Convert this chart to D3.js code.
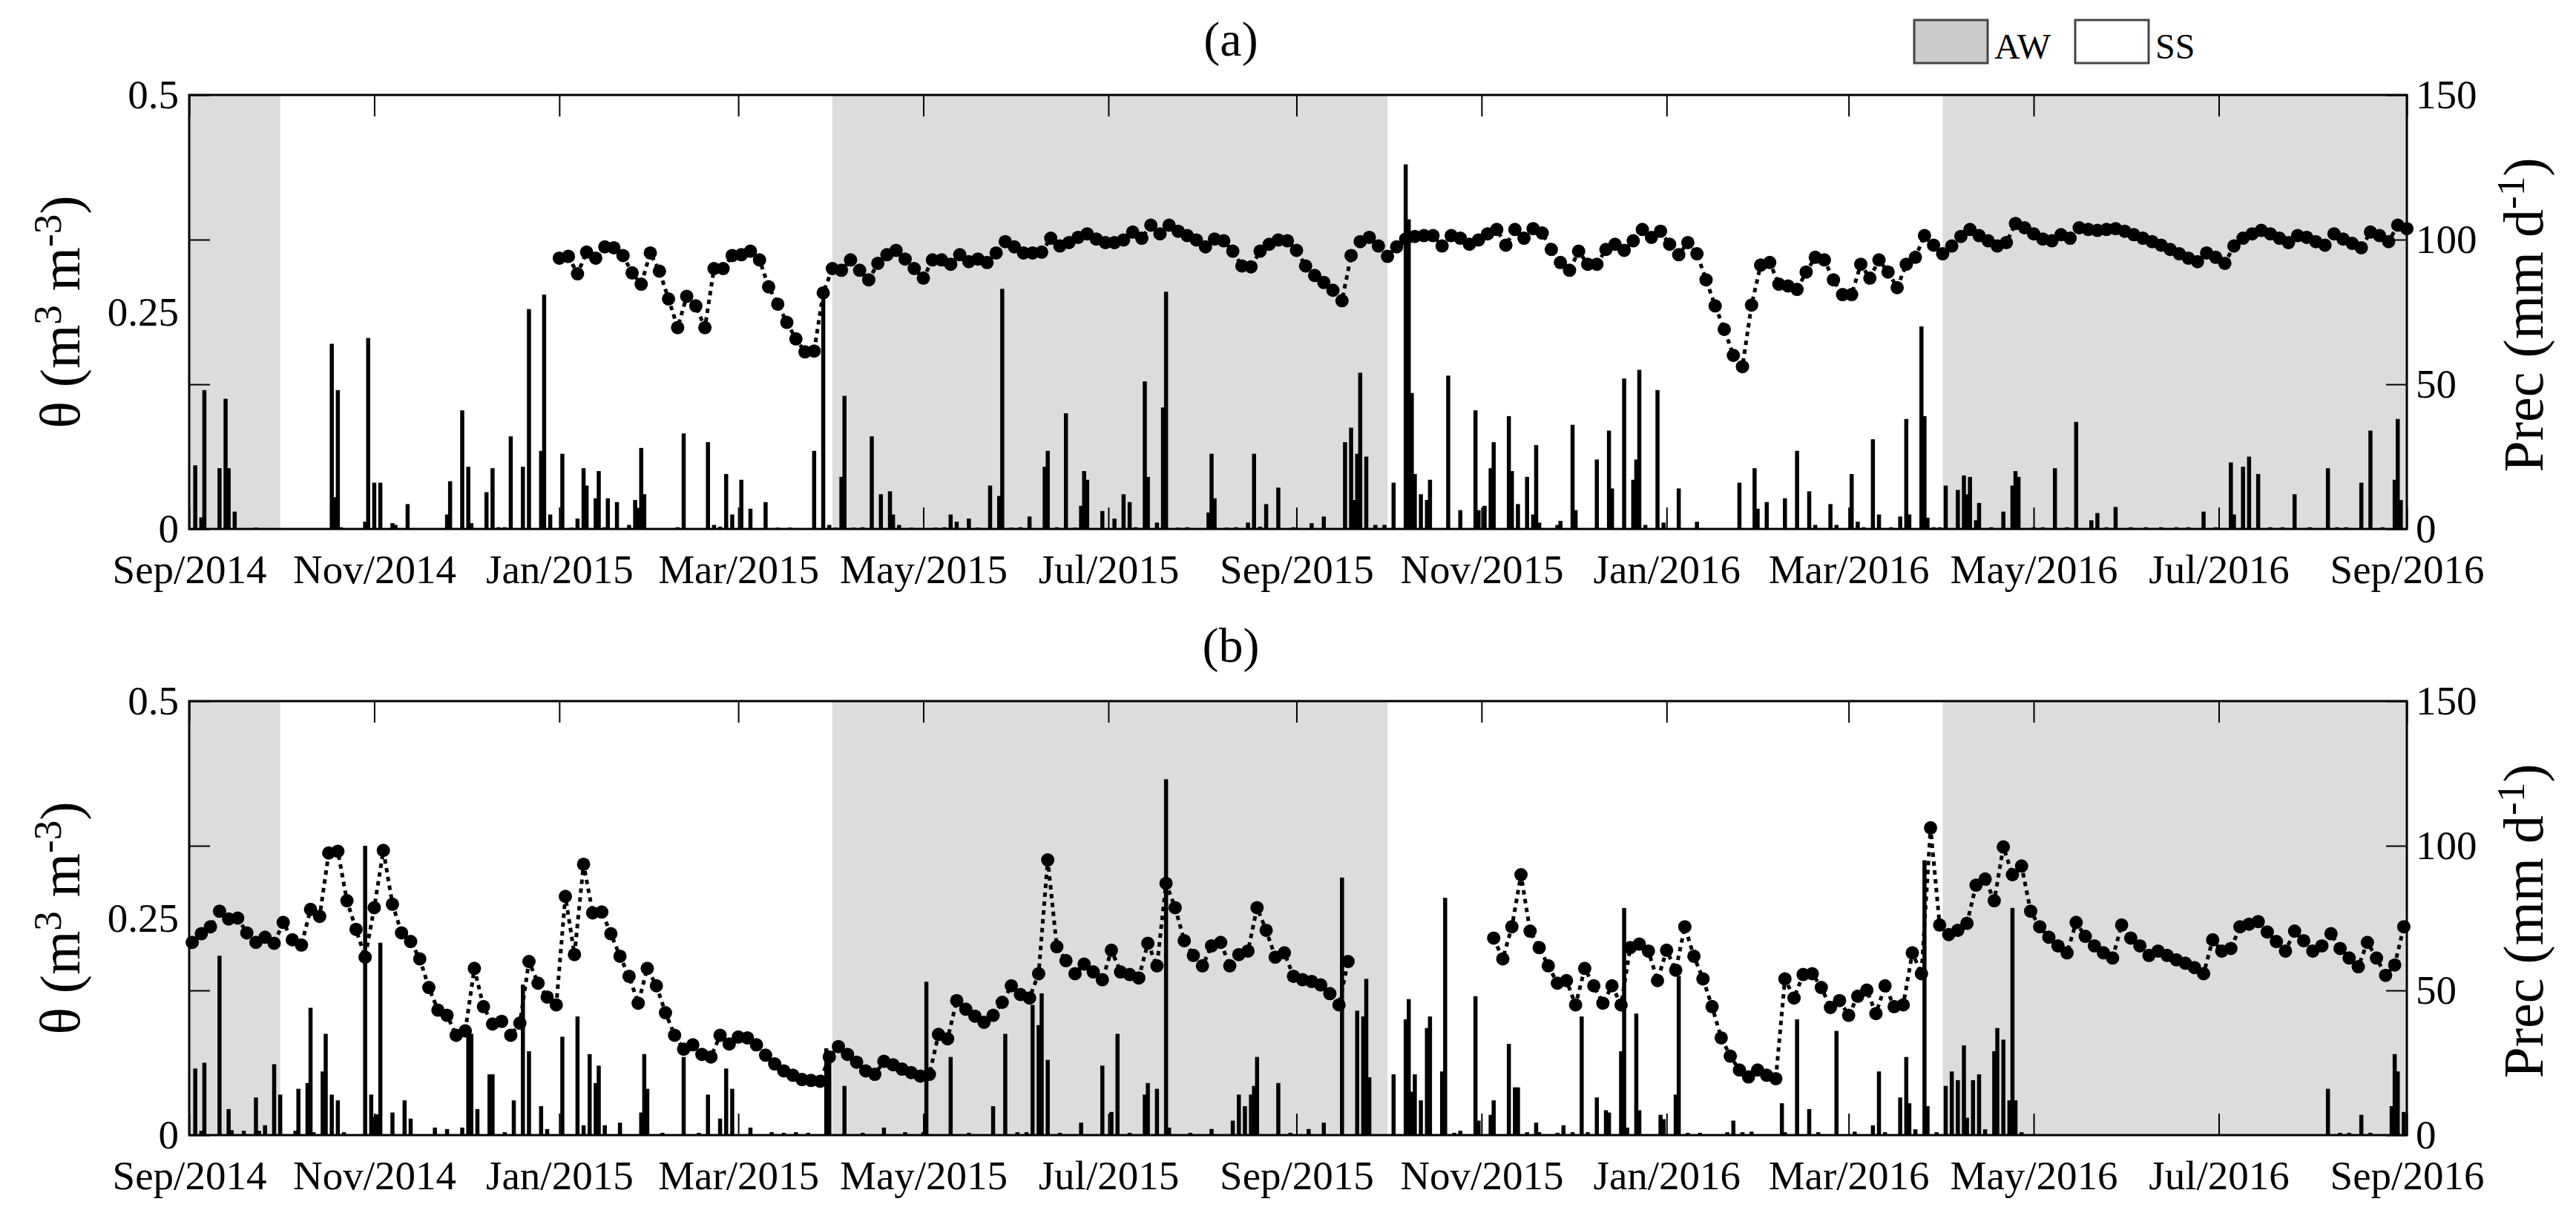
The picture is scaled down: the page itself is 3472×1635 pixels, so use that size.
<!DOCTYPE html>
<html>
<head>
<meta charset="utf-8">
<script src="https://cdn.jsdelivr.net/npm/d3@7"></script>
<style>
  body { margin: 0; background: #fff; }
  svg text { font-family: "Liberation Serif", "Times New Roman", "DejaVu Serif", serif; fill: #000; }
</style>
</head>
<body>
<div id="chart"></div>
<script>
////////////////////////////////////////////////////////////////////
//////////////////////////////  Data  //////////////////////////////
// all day numbers count from 1 Sep 2014 (day 0)
const originDate = "2014-09-01";
const endDate = "2016-09-01";
const xTickDates = ["2014-09-01", "2014-11-01", "2015-01-01", "2015-03-01", "2015-05-01", "2015-07-01",
    "2015-09-01", "2015-11-01", "2016-01-01", "2016-03-01", "2016-05-01", "2016-07-01", "2016-09-01"];
const awPeriods = [["2014-09-01", "2014-10-01"], ["2015-04-01", "2015-10-01"], ["2016-04-01", "2016-09-01"]];
const legendItems = ["AW", "SS"];
const thetaTicks = [0, 0.25, 0.5];
const precTicks = [0, 50, 100, 150];
const thetaStep = 3; // days between soil moisture readings below

// (a) soil moisture, from day 122
const thetaAStart = 122;
const thetaA = [
    .312, .314, .294, .319, .312, .325, .324, .315, .295, .282,
    .318, .297, .265, .232, .268, .257, .232, .300, .300, .315,
    .316, .320, .310, .279, .259, .238, .219, .204, .205, .272,
    .300, .298, .310, .298, .287, .306, .316, .321, .311, .300,
    .289, .310, .310, .305, .316, .308, .311, .307, .318, .331,
    .325, .318, .318, .319, .335, .326, .330, .336, .340, .334,
    .330, .330, .333, .342, .335, .350, .340, .350, .343, .338,
    .333, .325, .334, .332, .320, .303, .302, .320, .328, .333,
    .332, .321, .303, .292, .284, .275, .263, .315, .331, .336,
    .326, .314, .325, .334, .337, .338, .338, .326, .338, .335,
    .328, .333, .340, .345, .327, .345, .335, .346, .341, .322,
    .307, .298, .320, .305, .305, .322, .328, .321, .332, .345,
    .336, .343, .328, .316, .330, .317, .287, .257, .230, .200,
    .187, .258, .304, .307, .282, .280, .276, .296, .313, .310,
    .287, .270, .270, .305, .289, .310, .296, .278, .305, .313,
    .338, .327, .317, .326, .337, .345, .338, .332, .326, .330,
    .352, .347, .340, .334, .332, .339, .335, .347, .345, .344,
    .345, .346, .343, .339, .335, .331, .327, .322, .317, .312,
    .308, .318, .313, .306, .326, .335, .340, .344, .340, .335,
    .330, .338, .336, .331, .327, .340, .334, .329, .324, .342,
    .338, .331, .350, .346
];

// (b) soil moisture, two records with a gap in Oct-Nov 2015
const thetaB1Start = 1;
const thetaB1 = [
    .222, .232, .240, .258, .249, .250, .233, .222, .228, .221,
    .245, .225, .219, .260, .252, .325, .327, .270, .237, .205,
    .262, .328, .266, .233, .223, .203, .170, .144, .138, .115,
    .120, .192, .148, .128, .131, .115, .129, .200, .175, .159,
    .150, .275, .208, .312, .256, .257, .232, .206, .183, .152,
    .192, .172, .141, .115, .099, .104, .093, .090, .115, .105,
    .113, .112, .104, .092, .082, .074, .069, .064, .063, .062,
    .090, .102, .093, .084, .074, .070, .085, .081, .076, .072,
    .068, .070, .116, .111, .155, .145, .137, .130, .138, .153,
    .172, .162, .158, .186, .317, .217, .201, .186, .197, .188,
    .179, .213, .188, .185, .181, .221, .195, .290, .262, .224,
    .207, .195, .218, .222, .195, .208, .212, .262, .236, .205,
    .210, .183, .179, .177, .173, .163, .150, .200
];
const thetaB2Start = 430;
const thetaB2 = [
    .227, .203, .240, .300, .235, .216, .195, .175, .178, .150,
    .192, .172, .152, .172, .150, .216, .220, .212, .178, .213,
    .190, .240, .206, .180, .148, .112, .091, .075, .067, .075,
    .069, .065, .180, .158, .185, .186, .170, .147, .155, .138,
    .160, .167, .140, .172, .148, .150, .210, .186, .354, .242,
    .231, .236, .244, .288, .295, .270, .332, .300, .310, .258,
    .240, .228, .218, .210, .245, .229, .218, .210, .204, .242,
    .227, .218, .207, .212, .207, .202, .198, .193, .186, .225,
    .212, .215, .240, .243, .246, .234, .223, .212, .235, .224,
    .212, .218, .232, .215, .204, .194, .222, .204, .184, .196,
    .240
];

// daily precipitation [day, mm d-1]
const precA = [
    [2, 22], [4, 4], [5, 48], [10, 21], [12, 45], [13, 21], [15, 6], [22, 0.5],
    [47, 64], [48, 11], [49, 48], [50, 0.6], [58, 2.5], [59, 66], [61, 16], [63, 16], [67, 2], [68, 1.4], [72, 8.6],
    [85, 5], [86, 16.5], [90, 41], [92, 21.5], [93, 2], [98, 12.7], [100, 21], [102, 0.6], [104, 0.6], [106, 32],
    [110, 21.5], [112, 76], [116, 27], [117, 81], [119, 5], [123, 26], [126, 0.5], [128, 3.6], [130, 21], [131, 15],
    [134, 10.6], [135, 20], [137, 0.6], [138, 10.6], [141, 9.3], [145, 1.4], [147, 10], [148, 7.3], [149, 28], [150, 12],
    [161, 0.6], [163, 33], [171, 30], [173, 1.4], [175, 0.8], [177, 19], [179, 5], [182, 17], [185, 7],
    [190, 9.3], [194, 0.5], [198, 0.5], [206, 27], [209, 82], [211, 1.4], [213, 0.5], [215, 18], [216, 46], [219, 0.5],
    [222, 0.6], [225, 32], [228, 12], [231, 13], [232, 5], [234, 1.4], [238, 0.5], [246, 0.5], [249, 0.6],
    [251, 5], [253, 2.5], [257, 3.6], [260, 0.5], [264, 15], [267, 11.4], [268, 83], [271, 0.5], [274, 0.6], [277, 4.3],
    [282, 21.5], [283, 27], [286, 0.6], [289, 40], [292, 0.5], [294, 8], [295, 20], [296, 17], [301, 6.2], [305, 3.6],
    [308, 12], [310, 9.3], [312, 0.6], [315, 51], [316, 18], [319, 2.2], [321, 42], [322, 82], [326, 0.5], [329, 0.6],
    [336, 5.7], [337, 26], [338, 10.6], [342, 0.5], [345, 0.6], [349, 2.2], [351, 26], [353, 0.8], [355, 8.6],
    [359, 14.3], [364, 0.6], [370, 2], [374, 4.3],
    [381, 30], [383, 35], [384, 10], [385, 26], [386, 54], [388, 25], [391, 1.4], [394, 1.4], [397, 16],
    [401, 126], [402, 107], [403, 47], [404, 19], [406, 12], [408, 10], [409, 17], [415, 53], [419, 6.5],
    [424, 41], [425, 6.5], [427, 8], [429, 21], [430, 30], [435, 39], [436, 20], [438, 8.6], [441, 18], [443, 5],
    [444, 29], [445, 2.2], [451, 1.4], [452, 2.8], [456, 36], [457, 6.5], [464, 24], [468, 34], [469, 14],
    [473, 52], [476, 17], [477, 24], [478, 55], [480, 1.4], [484, 48], [486, 2.2], [491, 14], [497, 2.5],
    [511, 16], [516, 21], [517, 7], [520, 9.3], [526, 10.6], [530, 27], [534, 13], [536, 1.4], [541, 8.6], [543, 1.4],
    [548, 19], [550, 2.5], [552, 0.6], [555, 31], [557, 5], [561, 0.6], [564, 4.3], [566, 38], [567, 5],
    [571, 70], [572, 39], [573, 3.9], [575, 0.6], [577, 0.6], [579, 15], [583, 13.5], [585, 18.5], [586, 12],
    [587, 18], [589, 3], [590, 9], [594, 0.6], [598, 6], [601, 15], [602, 20], [603, 18], [608, 0.6], [611, 0.6],
    [615, 21], [619, 0.6], [622, 37], [627, 3], [629, 5.5], [632, 0.6], [635, 7.6], [640, 0.6], [645, 0.6],
    [650, 0.6], [655, 0.6], [659, 0.6], [664, 6], [668, 0.6], [673, 23], [674, 5], [677, 21.5], [679, 25], [682, 19],
    [686, 0.6], [690, 0.6], [694, 12], [699, 0.6], [705, 21], [708, 0.6], [711, 0.6], [716, 16], [719, 34],
    [723, 0.6], [727, 17], [728, 38], [729, 10]
];
const precB = [
    [2, 23], [4, 1.5], [5, 25], [10, 62], [13, 9], [14, 1.7], [18, 1.5], [22, 13], [23, 1.5], [25, 3.4],
    [28, 24.5], [30, 14], [35, 1.5], [36, 16], [39, 18], [40, 44], [41, 1], [44, 22], [45, 35], [47, 14], [49, 12], [51, 1],
    [58, 100], [60, 14], [61, 6.3], [62, 7.2], [63, 66.5], [67, 7.8], [71, 12], [73, 5.7], [81, 2.6], [85, 2.1],
    [90, 2.6], [92, 35], [93, 35], [95, 9], [99, 21], [100, 21], [104, 1], [107, 12], [110, 52], [112, 29], [116, 10], [118, 2.1],
    [123, 34], [128, 41], [130, 3.4], [132, 28], [134, 18], [135, 24], [137, 3.4], [142, 4.3], [149, 7.8], [150, 28],
    [151, 16], [156, 0.8], [163, 27], [168, 0.8], [171, 14], [175, 5.7], [177, 23], [179, 16], [185, 2.6],
    [192, 1], [196, 0.8], [200, 1], [204, 0.8], [210, 30], [211, 27], [216, 17], [222, 0.8], [229, 2.6], [236, 1], [242, 1],
    [243, 53], [251, 27], [257, 0.8], [265, 10], [269, 35], [273, 1], [276, 1], [278, 45], [280, 38], [281, 49], [283, 26],
    [287, 0.8], [294, 4.3], [301, 24], [304, 8], [306, 35], [310, 0.8], [315, 14], [316, 18], [319, 16], [322, 123],
    [323, 2.6], [330, 0.8], [337, 2.1], [344, 5], [346, 14], [348, 10], [350, 14], [351, 17], [352, 27], [359, 18],
    [363, 0.8], [369, 2.1], [374, 4.3],
    [380, 89], [385, 43], [387, 41], [388, 54], [389, 20], [397, 21], [401, 40], [402, 47], [403, 15], [404, 21],
    [406, 12], [408, 37], [409, 41], [413, 22], [414, 82], [417, 0.8], [419, 1.5], [424, 48], [425, 5], [429, 7],
    [430, 12], [435, 31.5], [437, 16.5], [438, 16.5], [441, 1], [444, 4.3], [445, 1], [451, 0.8], [453, 3.4], [456, 1],
    [459, 41], [461, 1], [464, 13], [467, 8.6], [468, 7.8], [472, 29], [473, 78.5], [474, 2.6], [477, 42], [478, 8.6],
    [485, 7], [486, 5.5], [490, 14], [491, 55], [494, 0.8], [498, 0.8], [507, 1], [509, 5], [512, 1], [515, 1.2],
    [525, 11], [526, 1], [530, 40], [534, 9], [537, 1], [543, 36], [549, 1.2], [555, 3.4], [557, 22], [559, 1],
    [564, 13], [566, 27], [567, 11], [569, 2], [572, 95], [573, 10], [576, 1], [579, 17], [581, 22], [583, 19],
    [585, 31], [586, 6], [588, 19], [590, 21], [592, 2], [595, 29], [596, 37], [598, 33], [600, 12], [601, 78.5],
    [602, 12], [604, 1], [705, 16], [709, 0.8], [712, 0.8], [716, 7], [719, 0.8], [726, 10], [727, 28], [728, 22], [730, 8]
];

////////////////////////////////////////////////////////////////////
//////////////////////////////  Init  //////////////////////////////
const width = 3472, height = 1635;
const plotLeft = 255, plotRight = 3244;
const panelBoxes = [{ label: "(a)", top: 128, bottom: 713 }, { label: "(b)", top: 945, bottom: 1530 }];
const serif = "Liberation Serif, Times New Roman, DejaVu Serif, serif";

const svg = d3.select("#chart").append("svg")
    .attr("width", width)
    .attr("height", height)
    .attr("font-family", serif);

const parseDate = d3.timeParse("%Y-%m-%d");
const formatTick = d3.timeFormat("%b/%Y");
const day0 = parseDate(originDate);
const dayToDate = (d) => d3.timeDay.offset(day0, d);

const xScale = d3.scaleTime()
    .domain([day0, parseDate(endDate)])
    .range([plotLeft, plotRight]);

const toSeries = (start, values) => values.map((v, i) => ({ date: dayToDate(start + i * thetaStep), value: v }));

const panels = [
    { box: panelBoxes[0], theta: [toSeries(thetaAStart, thetaA)], prec: precA },
    { box: panelBoxes[1], theta: [toSeries(thetaB1Start, thetaB1), toSeries(thetaB2Start, thetaB2)], prec: precB }
];

////////////////////////////////////////////////////////////////////
//////////////////////////////  Draw  //////////////////////////////
panels.forEach((p) => {
    const { top, bottom, label } = p.box;
    const yTheta = d3.scaleLinear().domain([0, 0.5]).range([bottom, top]);
    const yPrec = d3.scaleLinear().domain([0, 150]).range([bottom, top]);
    const g = svg.append("g");

    // AW shading
    g.selectAll("rect.aw")
        .data(awPeriods)
        .enter().append("rect")
        .attr("x", (d) => xScale(parseDate(d[0])))
        .attr("y", top)
        .attr("width", (d) => xScale(parseDate(d[1])) - xScale(parseDate(d[0])))
        .attr("height", bottom - top)
        .attr("fill", "#dcdcdc");

    // precipitation bars
    const barW = 5.5;
    g.selectAll("rect.prec")
        .data(p.prec)
        .enter().append("rect")
        .attr("x", (d) => xScale(dayToDate(d[0])) - barW / 2)
        .attr("y", (d) => yPrec(d[1]))
        .attr("width", barW)
        .attr("height", (d) => yPrec(0) - yPrec(d[1]))
        .attr("fill", "#000");

    // baseline
    g.append("line")
        .attr("x1", plotLeft).attr("x2", plotRight)
        .attr("y1", yPrec(0)).attr("y2", yPrec(0))
        .attr("stroke", "#000").attr("stroke-width", 2);

    // soil moisture: dotted line + dots
    const line = d3.line()
        .x((d) => xScale(d.date))
        .y((d) => yTheta(d.value));

    p.theta.forEach((series) => {
        g.append("path")
            .datum(series)
            .attr("d", line)
            .attr("fill", "none")
            .attr("stroke", "#000")
            .attr("stroke-width", 5)
            .attr("stroke-dasharray", "6 6");

        g.selectAll(null)
            .data(series)
            .enter().append("circle")
            .attr("cx", (d) => xScale(d.date))
            .attr("cy", (d) => yTheta(d.value))
            .attr("r", 9)
            .attr("fill", "#000");
    });

    // x axis (bottom with labels, top ticks only)
    const xDates = xTickDates.map(parseDate);
    const xAxisBottom = svg.append("g")
        .attr("transform", `translate(0,${bottom})`)
        .call(d3.axisBottom(xScale).tickValues(xDates).tickSize(-29).tickPadding(34).tickFormat(formatTick));
    const xAxisTop = svg.append("g")
        .attr("transform", `translate(0,${top})`)
        .call(d3.axisTop(xScale).tickValues(xDates).tickSize(-29).tickFormat(""));

    // left axis: theta labels, prec ticks mirrored
    const yAxisLeft = svg.append("g")
        .attr("transform", `translate(${plotLeft},0)`)
        .call(d3.axisLeft(yTheta).tickValues(thetaTicks).tickSize(0).tickPadding(14)
            .tickFormat((d) => (d === 0 ? "0" : String(d))));
    const yTickLeft = svg.append("g")
        .attr("transform", `translate(${plotLeft},0)`)
        .call(d3.axisLeft(yPrec).tickValues(precTicks).tickSize(-28).tickFormat(""));

    // right axis: precipitation
    const yAxisRight = svg.append("g")
        .attr("transform", `translate(${plotRight},0)`)
        .call(d3.axisRight(yPrec).tickValues(precTicks).tickSize(-28).tickPadding(12));

    [xAxisBottom, xAxisTop, yAxisLeft, yTickLeft, yAxisRight].forEach((a) => {
        a.attr("font-family", serif);
        a.select(".domain").remove();
        a.selectAll("line").attr("stroke", "#000").attr("stroke-width", 2);
        a.selectAll("text").attr("font-size", 55);
    });

    // frame
    svg.append("rect")
        .attr("x", plotLeft).attr("y", top)
        .attr("width", plotRight - plotLeft).attr("height", bottom - top)
        .attr("fill", "none").attr("stroke", "#000").attr("stroke-width", 3);

    // axis titles
    const mid = (top + bottom) / 2;
    const leftTitle = svg.append("text")
        .attr("transform", `translate(107,${mid}) rotate(-90)`)
        .attr("text-anchor", "middle")
        .attr("font-size", 76);
    leftTitle.append("tspan").text("θ (m");
    leftTitle.append("tspan").attr("font-size", "70%").attr("baseline-shift", "48%").text("3");
    leftTitle.append("tspan").text(" m");
    leftTitle.append("tspan").attr("font-size", "70%").attr("baseline-shift", "48%").text("-3");
    leftTitle.append("tspan").text(")");

    const rightTitle = svg.append("text")
        .attr("transform", `translate(3427,${mid + 4}) rotate(-90)`)
        .attr("text-anchor", "middle")
        .attr("font-size", 76);
    rightTitle.append("tspan").text("Prec (mm d");
    rightTitle.append("tspan").attr("font-size", "70%").attr("baseline-shift", "48%").text("-1");
    rightTitle.append("tspan").text(")");

    // panel title
    svg.append("text")
        .attr("x", 1659)
        .attr("y", top - 53)
        .attr("text-anchor", "middle")
        .attr("font-size", 66)
        .text(label);
});

// legend
const legend = svg.append("g").attr("transform", "translate(2580,27)");
legendItems.forEach((name, i) => {
    const item = legend.append("g").attr("transform", `translate(${i * 217},0)`);
    item.append("rect")
        .attr("width", 99).attr("height", 58)
        .attr("fill", i === 0 ? "#cccccc" : "#fff")
        .attr("stroke", "#444").attr("stroke-width", 3);
    item.append("text")
        .attr("x", 108).attr("y", 52)
        .attr("font-size", 48)
        .text(name);
});
</script>
</body>
</html>
